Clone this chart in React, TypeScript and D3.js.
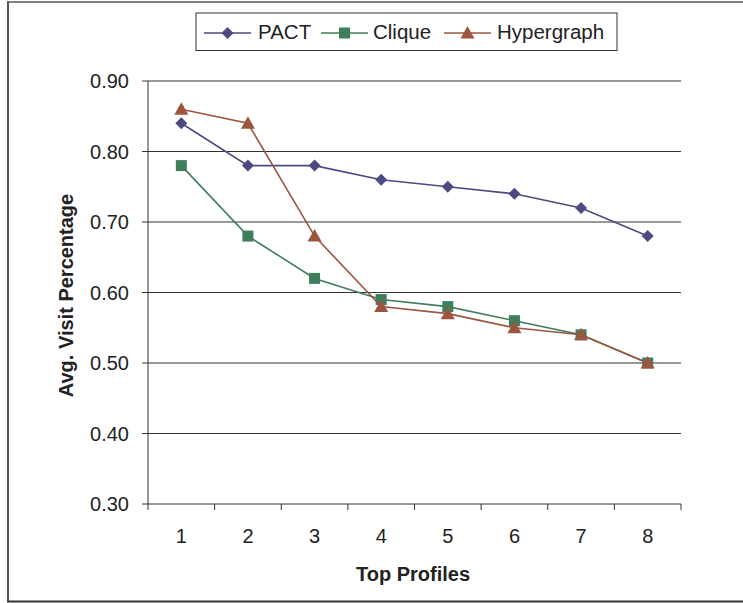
import React from "react";
import * as d3 from "d3";

const categories = ["1", "2", "3", "4", "5", "6", "7", "8"];
const pact = [0.84, 0.78, 0.78, 0.76, 0.75, 0.74, 0.72, 0.68];
const clique = [0.78, 0.68, 0.62, 0.59, 0.58, 0.56, 0.54, 0.5];
const hypergraph = [0.86, 0.84, 0.68, 0.58, 0.57, 0.55, 0.54, 0.5];
const yTicks = [0.3, 0.4, 0.5, 0.6, 0.7, 0.8, 0.9];
const seriesNames = ["PACT", "Clique", "Hypergraph"];
const colors = ["#4B4A82", "#3F7E5C", "#9C553F"];
const shapes = ["diamond", "square", "triangle"];

const W = 743;
const H = 603;
const left = 148, right = 681, top = 81, bottom = 504;

function Marker({ shape, x, y, color }: { shape: string; x: number; y: number; color: string }) {
  if (shape === "diamond") {
    const r = 6;
    return <path d={`M${x},${y - r}L${x + r},${y}L${x},${y + r}L${x - r},${y}Z`} fill={color} />;
  }
  if (shape === "square") {
    const s = 5.5;
    return <rect x={x - s} y={y - s} width={2 * s} height={2 * s} fill={color} />;
  }
  const r = 7;
  return <path d={`M${x},${y - r}L${x + r},${y + 5.5}L${x - r},${y + 5.5}Z`} fill={color} />;
}

export default function App() {
  const x = d3.scaleBand<string>().domain(categories).range([left, right]);
  const y = d3.scaleLinear().domain([0.3, 0.9]).range([bottom, top]);
  const data = [pact, clique, hypergraph];
  const line = d3
    .line<number>()
    .x((_, i) => (x(categories[i]) as number) + x.bandwidth() / 2)
    .y((d) => y(d));
  const font = "Arial, 'Liberation Sans', sans-serif";
  const boundaries = categories.map((c) => x(c) as number).concat([right]);

  const legendItems = [
    { lx: 204, tx: 258 },
    { lx: 321, tx: 373 },
    { lx: 444, tx: 497 },
  ];

  return (
    <svg width={W} height={H} style={{ position: "absolute", left: 0, top: 0 }} fontFamily={font}>
      <rect x={0} y={0} width={W} height={H} fill="#fff" />
      <line x1={7} x2={W} y1={2} y2={2} stroke="#555" strokeWidth={1.5} />
      <line x1={8} x2={8} y1={1.5} y2={602} stroke="#555" strokeWidth={2} />
      <line x1={7} x2={W} y1={601.5} y2={601.5} stroke="#333" strokeWidth={2} />
      {/* gridlines */}
      {yTicks.slice(1).map((t) => (
        <line key={t} x1={left} x2={right} y1={y(t)} y2={y(t)} stroke="#333" strokeWidth={1} />
      ))}
      {/* axes */}
      <line x1={left} x2={left} y1={top} y2={bottom} stroke="#333" />
      <line x1={left} x2={right} y1={bottom} y2={bottom} stroke="#333" />
      {yTicks.map((t) => (
        <g key={t}>
          <line x1={left - 6} x2={left} y1={y(t)} y2={y(t)} stroke="#333" />
          <text x={129} y={y(t)} dy="0.36em" textAnchor="end" fontSize={20} fill="#222">
            {t.toFixed(2)}
          </text>
        </g>
      ))}
      {boundaries.map((b, i) => (
        <line key={i} x1={b} x2={b} y1={bottom} y2={bottom + 6} stroke="#333" />
      ))}
      {categories.map((c) => (
        <text key={c} x={(x(c) as number) + x.bandwidth() / 2} y={536} dy="0.36em" textAnchor="middle" fontSize={20} fill="#222">
          {c}
        </text>
      ))}
      <text x={413} y={581} textAnchor="middle" fontSize={20} fontWeight="bold" fill="#222">
        Top Profiles
      </text>
      <text
        transform={`translate(73,295.5) rotate(-90)`}
        textAnchor="middle"
        fontSize={20}
        fontWeight="bold"
        fill="#222"
      >
        Avg. Visit Percentage
      </text>
      {/* series */}
      {data.map((s, k) => (
        <g key={k}>
          <path d={line(s) as string} fill="none" stroke={colors[k]} strokeWidth={1.6} />
          {s.map((v, i) => (
            <Marker
              key={i}
              shape={shapes[k]}
              x={(x(categories[i]) as number) + x.bandwidth() / 2}
              y={y(v)}
              color={colors[k]}
            />
          ))}
        </g>
      ))}
      {/* legend */}
      <rect x={196} y={13} width={421} height={37.5} fill="#fff" stroke="#333" strokeWidth={1} />
      {seriesNames.map((n, k) => (
        <g key={n}>
          <line x1={legendItems[k].lx} x2={legendItems[k].lx + 47} y1={33} y2={33} stroke={colors[k]} strokeWidth={1.6} />
          <Marker shape={shapes[k]} x={legendItems[k].lx + 23.5} y={33} color={colors[k]} />
          <text x={legendItems[k].tx} y={32} dy="0.36em" fontSize={20.5} fill="#222">
            {n}
          </text>
        </g>
      ))}
    </svg>
  );
}
